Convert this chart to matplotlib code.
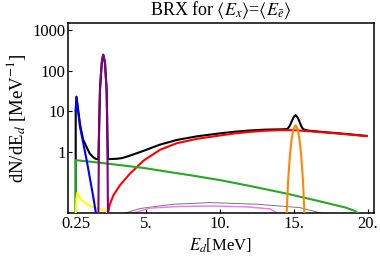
import matplotlib
matplotlib.use("Agg")
import matplotlib.pyplot as plt

plt.rcParams['font.family'] = ['Liberation Serif', 'DejaVu Serif']
plt.rcParams['mathtext.fontset'] = 'stix'

# spectra (E_d in MeV, dN/dE_d in 1/MeV)
total_x = [0.25, 0.25, 0.3, 0.54, 0.75, 0.99, 1.2, 1.44, 1.6, 1.75, 1.78, 1.82, 1.89, 2.01, 2.11,
           2.23, 2.34, 2.39, 2.43, 2.45, 3.0, 3.4, 3.9, 4.82, 5.95, 7.07, 8.5, 10, 11, 12, 13, 14,
           14.5, 14.6, 14.73, 14.84, 14.96, 15.1, 15.24, 15.36, 15.47, 15.6, 15.7, 16, 17, 18, 19, 19.9]
total_y = [0.03, 10, 22.8, 4.8, 2.0, 1.3, 0.9, 0.73, 0.67, 0.65, 0.66, 2.6, 34, 153, 246,
           153, 34, 2.6, 0.67, 0.66, 0.67, 0.7, 0.8, 1.05, 1.5, 1.95, 2.42, 2.84, 3.12, 3.34, 3.5, 3.56,
           3.6, 3.8, 4.5, 5.6, 7.0, 8.0, 7.0, 5.6, 4.4, 3.65, 3.5, 3.3, 3.06, 2.85, 2.64, 2.45]

blue_x = [0.25, 0.3, 0.54, 0.99, 1.44, 1.62]
blue_y = [10, 22, 4.1, 0.62, 0.076, 0.03]

purple_x = [1.78, 1.80, 1.82, 1.85, 1.89, 1.95, 2.01, 2.06, 2.11, 2.16, 2.23, 2.27, 2.34, 2.37, 2.39, 2.41, 2.43]
purple_y = [0.03, 0.2, 1.94, 8, 33, 80, 152, 210, 245, 210, 152, 80, 33, 8, 1.94, 0.2, 0.03]

green_x = [0.25, 0.25, 1.44, 3.0, 4.82, 6.5, 8.2, 10, 12, 14.5, 16.5, 18.5, 19.1, 19.3, 19.4]
green_y = [0.03, 0.62, 0.56, 0.48, 0.40, 0.32, 0.257, 0.20, 0.144, 0.093, 0.063, 0.042, 0.035, 0.031, 0.028]

yellow_x = [0.25, 0.3, 0.36, 0.65, 1.1, 1.78, 2.34, 2.43]
yellow_y = [0.03, 0.07, 0.098, 0.064, 0.048, 0.04, 0.034, 0.03]

red_x = [2.43, 2.55, 2.8, 3.24, 3.92, 4.82, 5.95, 7.07, 8.5, 10, 11, 12, 13, 14, 15, 16, 17, 18, 19, 19.9]
red_y = [0.03, 0.05, 0.085, 0.15, 0.29, 0.6, 1.12, 1.62, 2.1, 2.52, 2.83, 3.08, 3.28, 3.4, 3.4, 3.2, 3.0, 2.8, 2.6, 2.43]

orange_x = [14.5, 14.6, 14.73, 14.84, 14.96, 15.1, 15.24, 15.36, 15.47, 15.6, 15.7]
orange_y = [0.03, 0.2, 0.91, 2.1, 3.6, 4.5, 3.6, 2.1, 0.91, 0.2, 0.03]

pink_x = [4.03, 5.27, 7.3, 9.55, 11.8, 13.4, 13.9]
pink_y = [0.03, 0.041, 0.045, 0.046, 0.044, 0.039, 0.03]

gray_x = [3.47, 4.6, 6.85, 9.3, 12.5, 15.4, 16.96]
gray_y = [0.03, 0.04, 0.051, 0.056, 0.051, 0.042, 0.03]

xticks = [0.25, 5, 10, 15, 20]
xtick_labels = ['0.25', '5.', '10.', '15.', '20.']
yticks = [1, 10, 100, 1000]
ytick_labels = ['1', '10', '100', '1000']

fig = plt.figure(figsize=(3.8, 2.57), dpi=100)
ax = fig.add_axes([68.3 / 380, 1 - 213 / 257, 306 / 380, 189.7 / 257])

ax.plot(total_x, total_y, color='black', lw=1.5, zorder=1)
ax.plot(gray_x, gray_y, color='#777777', lw=0.7, zorder=2)
ax.plot(pink_x, pink_y, color='#f07cf0', lw=1.1, zorder=2)
ax.plot(red_x, red_y, color='red', lw=1.5, zorder=3)
ax.plot(green_x, green_y, color='#22aa22', lw=1.5, zorder=3)
ax.plot(yellow_x, yellow_y, color='#ffff00', lw=1.5, zorder=3)
ax.plot(blue_x, blue_y, color='blue', lw=1.5, zorder=3)
ax.plot(orange_x, orange_y, color='#ff8800', lw=1.5, zorder=4)
ax.plot(purple_x, purple_y, color='#800080', lw=1.5, zorder=4)

ax.set_yscale('log')
ax.set_xlim(-0.25, 20.42)
ax.set_ylim(0.031, 1460)
ax.set_xticks(xticks)
ax.set_xticklabels(xtick_labels)
ax.set_yticks(yticks)
ax.set_yticklabels(ytick_labels)
ax.minorticks_off()
ax.tick_params(direction='in', length=3, width=0.8, labelsize=12, pad=2)
for s in ax.spines.values():
    s.set_linewidth(1.1)

fig.text(221 / 380, 1 - 10 / 257, r'BRX for $\langle E_x\rangle$=$\langle E_{\bar{e}}\rangle$',
         ha='center', va='center', fontsize=13)
fig.text(16 / 380, 1 - 118 / 257, r'dN/dE$_d$ [MeV$^{-1}$]', rotation=90,
         ha='center', va='center', fontsize=13.5)
fig.text(220 / 380, 1 - 246 / 257, r'$E_d$[MeV]', ha='center', va='center', fontsize=12)

fig.savefig('out.png', dpi=100)
